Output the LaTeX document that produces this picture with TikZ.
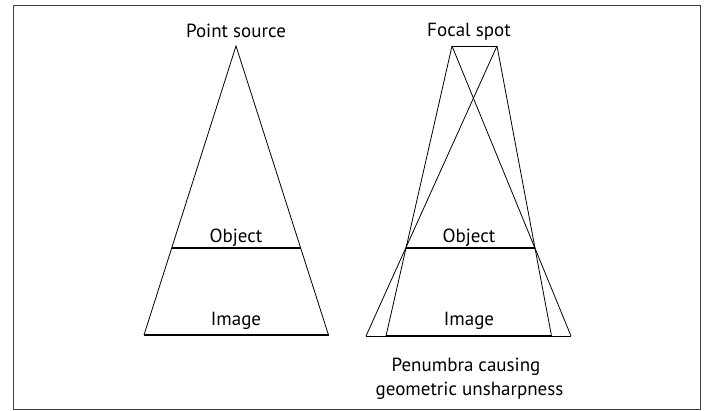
\documentclass[tikz,border=0pt]{standalone}
\usepackage{fontspec}
\setmainfont{PT Sans}
\begin{document}
\begin{tikzpicture}[x=1pt,y=-1pt,
  thin line/.style={line width=0.8pt, black},
  thick line/.style={line width=1.4pt, black},
  lbl/.style={font=\fontsize{19}{22}\selectfont, inner sep=0pt, anchor=base},
  frame/.style={line width=1pt, black!75}]
\useasboundingbox (0,0) rectangle (706,411);
\draw[frame] (13,6) rectangle (700.5,409.5);
% left diagram
\coordinate (ps) at (236,46);
\coordinate (lol) at (171.5,248);
\coordinate (lor) at (300.5,248);
\coordinate (lil) at (144,335);
\coordinate (lir) at (328.5,335);
\draw[thin line] (lil) -- (ps) -- (lir);
\draw[thick line] (lol) -- (lor);
\draw[thick line] (lil) -- (lir);
\node[lbl] (tps) at (236,38) {Point source};
\node[lbl] (tlo) at (236,242.5) {Object};
\node[lbl] (tli) at (236,325.5) {Image};
% right diagram
\coordinate (fa) at (452,46);
\coordinate (fb) at (497,46);
\coordinate (rol) at (406,248);
\coordinate (ror) at (535,248);
\coordinate (ril) at (386,336);
\coordinate (rir) at (551.5,336);
\coordinate (rel) at (366,336);
\coordinate (rer) at (571,336);
\draw[thin line] (fa) -- (fb);
\draw[thin line] (fa) -- (ril);
\draw[thin line] (fb) -- (rel);
\draw[thin line] (fa) -- (rer);
\draw[thin line] (fb) -- (rir);
\draw[thin line] (rel) -- (rer);
\draw[thick line] (rol) -- (ror);
\draw[thick line] (ril) -- (rir);
\node[lbl] (tfs) at (469,36.5) {Focal spot};
\node[lbl] (tro) at (469,242.5) {Object};
\node[lbl] (tri) at (469,325.5) {Image};
\node[lbl] (tp1) at (466,371.5) {Penumbra causing};
\node[lbl] (tp2) at (469.5,395) {geometric unsharpness};
\end{tikzpicture}
\end{document}
